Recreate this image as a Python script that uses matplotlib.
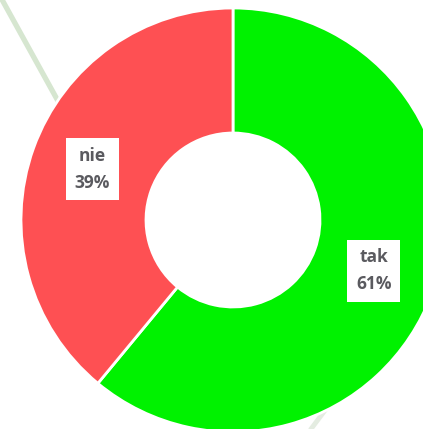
import numpy as np
import matplotlib.pyplot as plt

labels = ['tak', 'nie']
shares = [61, 39]
colors = ['#00f200', '#fe5053']

fig = plt.figure(figsize=(4.23, 4.29), dpi=100)
ax = fig.add_axes([0, 0, 1, 1])

# faint background strokes
ax.plot([0, 90], [433, 270], color='#d6e6d0', lw=3.8, solid_capstyle='butt', zorder=0)
ax.plot([308, 332], [-4, 28], color='#e4ece1', lw=3.5, solid_capstyle='butt', zorder=0)

R = 212
cx, cy = 233, 429 - 220
wedges, _ = ax.pie(shares, colors=colors, startangle=90, counterclock=False,
                   radius=R, center=(cx, cy),
                   wedgeprops=dict(width=R - 87, edgecolor='white', linewidth=2))

for w, lab, val in zip(wedges, labels, shares):
    ang = np.deg2rad((w.theta1 + w.theta2) / 2)
    r = (R + 87) / 2
    ax.text(cx + r * np.cos(ang), cy + r * np.sin(ang), f'{lab}\n{val}%',
            ha='center', va='center', fontsize=12.5, fontweight='bold',
            family='Open Sans', color='#5a5a5f', linespacing=1.6,
            bbox=dict(boxstyle='square,pad=0.5', fc='white', ec='none'))

ax.set_xlim(0, 423)
ax.set_ylim(0, 429)
ax.set_aspect('auto')
ax.axis('off')

plt.savefig('out.png', dpi=100)
